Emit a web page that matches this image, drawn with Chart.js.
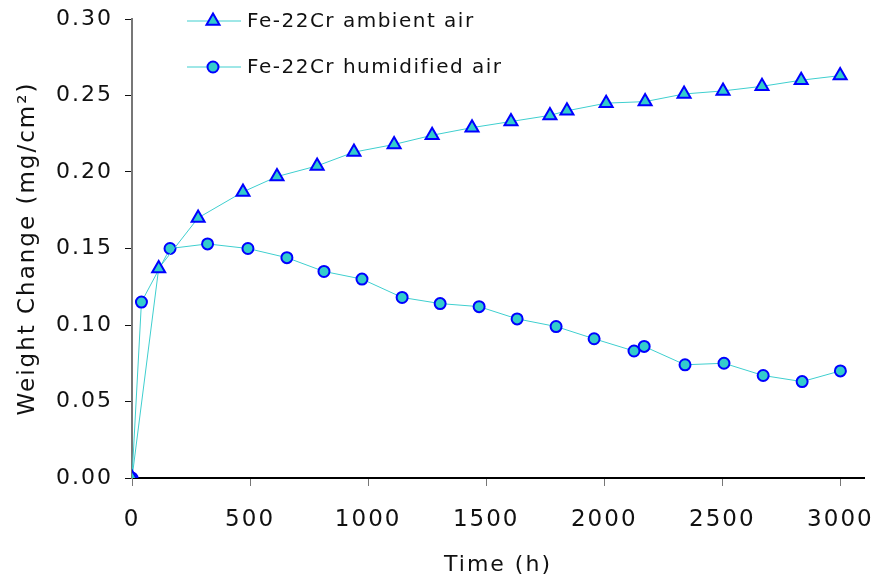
<!DOCTYPE html>
<html>
<head>
<meta charset="utf-8">
<script src="https://cdn.jsdelivr.net/npm/chart.js@4.4.1/dist/chart.umd.min.js"></script>
<style>
  html, body { margin: 0; padding: 0; background: #fff; }
  #wrap { width: 876px; height: 579px; }
</style>
</head>
<body>
<div id="wrap"><canvas id="wchart"></canvas></div>
<script>
const ambientTime = [0, 113, 280, 470, 614, 784, 940, 1110, 1271, 1440, 1605, 1770, 1842, 2008, 2173, 2338, 2503, 2668, 2834, 2999];
const ambientGain = [0, 0.137, 0.170, 0.187, 0.197, 0.204, 0.213, 0.218, 0.224, 0.229, 0.233, 0.237, 0.240, 0.245, 0.246, 0.251, 0.253, 0.256, 0.260, 0.263];
const humidTime = [0, 40, 161, 320, 491, 656, 813, 974, 1144, 1305, 1470, 1631, 1796, 1957, 2126, 2169, 2342, 2507, 2673, 2838, 3000];
const humidGain = [0, 0.115, 0.150, 0.153, 0.150, 0.144, 0.135, 0.130, 0.118, 0.114, 0.112, 0.104, 0.099, 0.091, 0.083, 0.086, 0.074, 0.075, 0.067, 0.063, 0.070];
const seriesNames = ['Fe-22Cr ambient air', 'Fe-22Cr humidified air'];
const xTicks = [0, 500, 1000, 1500, 2000, 2500, 3000];
const yTicks = [0, 0.05, 0.10, 0.15, 0.20, 0.25, 0.30];

const lineCol = '#3fcfcf';
const fillCol = '#33cccc';
const edgeCol = '#0000ff';
const fontFam = '"DejaVu Sans", Verdana, sans-serif';
const spacing = '2px';

function toPts(xs, ys) {
  return xs.map((x, i) => ({ x: x, y: ys[i] }));
}

// the original text is a bit spread out
const spreadText = {
  id: 'spreadText',
  beforeUpdate(chart) { chart.ctx.letterSpacing = spacing; },
  beforeDraw(chart) { chart.ctx.letterSpacing = spacing; }
};

// legend sits inside the plot, so draw it by hand
const innerLegend = {
  id: 'innerLegend',
  afterDatasetsDraw(chart) {
    const ctx = chart.ctx;
    const rows = [21, 67];
    chart.data.datasets.forEach((ds, i) => {
      const y = rows[i];
      ctx.save();
      ctx.strokeStyle = ds.borderColor;
      ctx.lineWidth = 1;
      ctx.beginPath();
      ctx.moveTo(187, y);
      ctx.lineTo(241, y);
      ctx.stroke();
      ctx.fillStyle = ds.pointBackgroundColor;
      ctx.strokeStyle = ds.pointBorderColor;
      ctx.lineWidth = ds.pointBorderWidth;
      Chart.helpers.drawPoint(ctx, { pointStyle: ds.pointStyle, radius: ds.pointRadius, rotation: 0, borderWidth: ds.pointBorderWidth }, 213, y);
      ctx.fillStyle = '#111';
      ctx.letterSpacing = '1.5px';
      ctx.font = '20px ' + fontFam;
      ctx.textBaseline = 'middle';
      ctx.fillText(ds.label, 247, y + 1);
      ctx.restore();
    });
  }
};

new Chart(document.getElementById('wchart'), {
  type: 'line',
  data: {
    datasets: [
      {
        label: seriesNames[0],
        data: toPts(ambientTime, ambientGain),
        borderColor: lineCol,
        borderWidth: 1,
        pointStyle: 'triangle',
        pointRadius: 7.5,
        pointBackgroundColor: fillCol,
        pointBorderColor: edgeCol,
        pointBorderWidth: 2,
        tension: 0
      },
      {
        label: seriesNames[1],
        data: toPts(humidTime, humidGain),
        borderColor: lineCol,
        borderWidth: 1,
        pointStyle: 'circle',
        pointRadius: 5.5,
        pointBackgroundColor: fillCol,
        pointBorderColor: edgeCol,
        pointBorderWidth: 2,
        tension: 0
      }
    ]
  },
  options: {
    responsive: true,
    maintainAspectRatio: false,
    animation: false,
    layout: { padding: { top: 19, right: 12, left: 0, bottom: 0 } },
    plugins: {
      legend: { display: false },
      tooltip: { enabled: false }
    },
    scales: {
      x: {
        type: 'linear',
        min: 0,
        max: 3100,
        afterBuildTicks: s => { s.ticks = xTicks.map(v => ({ value: v })); },
        afterFit: s => { s.height = 101; s.paddingLeft = 0; s.paddingRight = 0; },
        border: { color: '#000', width: 2 },
        grid: { drawOnChartArea: false, drawTicks: true, tickLength: 8, color: '#777' },
        ticks: {
          color: '#111',
          padding: 20,
          maxRotation: 0,
          autoSkip: false,
          font: { family: fontFam, size: 23 },
          callback: v => String(v)
        },
        title: {
          display: true,
          text: 'Time (h)',
          color: '#111',
          font: { family: fontFam, size: 22 },
          padding: { top: 10, bottom: 1 }
        }
      },
      y: {
        min: 0,
        max: 0.3,
        afterBuildTicks: s => { s.ticks = yTicks.map(v => ({ value: v })); },
        afterFit: s => { s.width = 132; s.paddingTop = 0; s.paddingBottom = 0; },
        border: { color: '#777', width: 2 },
        grid: { drawOnChartArea: false, drawTicks: true, tickLength: 7, color: '#111' },
        ticks: {
          color: '#111',
          padding: 12,
          autoSkip: false,
          font: { family: fontFam, size: 22 },
          callback: v => v.toFixed(2)
        },
        title: {
          display: true,
          text: 'Weight Change (mg/cm²)',
          color: '#111',
          font: { family: fontFam, size: 23 },
          padding: { top: 14, bottom: 8 }
        }
      }
    }
  },
  plugins: [spreadText, innerLegend]
});
</script>
</body>
</html>
